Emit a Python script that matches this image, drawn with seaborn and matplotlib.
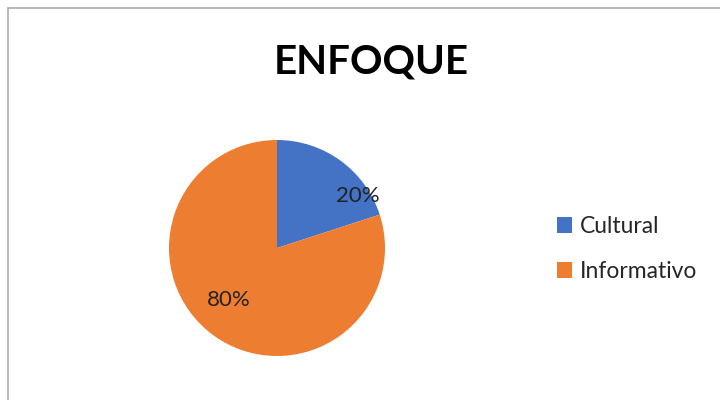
import matplotlib
matplotlib.use("Agg")
import matplotlib.pyplot as plt
import matplotlib.patches as mpatches
import seaborn as sns

# data
categories = ["Cultural", "Informativo"]
shares = [20, 80]
title = "ENFOQUE"

sns.set_theme(style="white")
plt.rcParams["font.family"] = ["Lato", "DejaVu Sans"]

colors = ["#4472C4", "#ED7D31"]

fig = plt.figure(figsize=(7.2, 4.0), dpi=100)

# chart border (top/left visible, rest off canvas)
fig.add_artist(mpatches.Rectangle((8 / 720, -0.5), 2.0, 1.5 - 8 / 400,
                                  transform=fig.transFigure, fill=False,
                                  edgecolor="#ababab", linewidth=1.2))

ax = fig.add_axes([(277 - 108) / 720, (400 - 356) / 400, 216 / 720, 216 / 400])
wedges, texts, autotexts = ax.pie(
    shares, colors=colors, startangle=90, counterclock=False,
    autopct="%1.0f%%", textprops={"fontsize": 16, "color": "#222222"},
    wedgeprops={"linewidth": 0},
)
ax.set_xlim(-1, 1)
ax.set_ylim(-1, 1)
ax.set_aspect("equal")
# Excel "best fit" label spots
autotexts[0].set_position((0.75, 0.48))
autotexts[1].set_position((-0.45, -0.48))

fig.text(371 / 720, 1 - 62 / 400, title, ha="center", va="center",
         fontsize=29, fontweight="bold", color="black")

fig.legend(wedges, categories, loc="center left",
           bbox_to_anchor=(536 / 720, 1 - 249 / 400), frameon=False,
           fontsize=16.5, handlelength=0.68, handleheight=0.68,
           handletextpad=0.35, labelspacing=1.05)

fig.savefig("out.png", dpi=100)
